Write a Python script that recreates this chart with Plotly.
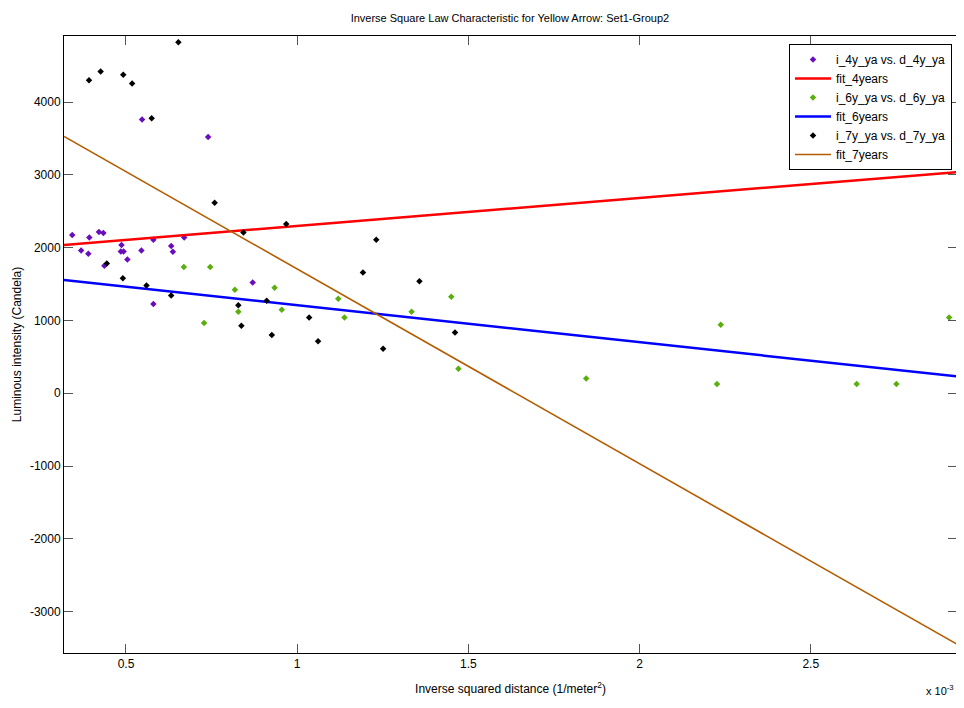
import plotly.graph_objects as go

# x values in units of 1e-3 (1/meter^2), as displayed with "x 10^-3"
d_4y_ya = [0.343, 0.393, 0.421, 0.434, 0.369, 0.390, 0.487, 0.485, 0.493, 0.504,
           0.545, 0.580, 0.632, 0.637, 0.670, 0.437, 0.580, 0.547, 0.740, 0.870]
i_4y_ya = [2174, 2141, 2215, 2202, 1962, 1917, 2036, 1948, 1948, 1838,
           1962, 2109, 2023, 1944, 2141, 1752, 1225, 3761, 3523, 1522]

d_6y_ya = [0.669, 0.746, 0.818, 0.828, 0.728, 0.934, 0.955, 1.120, 1.138, 1.334,
           1.450, 1.471, 1.844, 2.237, 2.226, 2.634, 2.750, 2.904]
i_6y_ya = [1734, 1734, 1421, 1119, 967, 1449, 1146, 1298, 1040, 1119,
           1325, 338, 201, 940, 128, 128, 128, 1040]

d_7y_ya = [0.392, 0.426, 0.492, 0.518, 0.653, 0.575, 0.444, 0.491, 0.560, 0.632,
           0.759, 0.828, 0.837, 0.843, 0.968, 1.231, 0.911, 0.926, 1.035, 1.061,
           1.192, 1.357, 1.461, 1.251]
i_7y_ya = [4301, 4421, 4376, 4256, 4824, 3779, 1783, 1582, 1481, 1343,
           2619, 1211, 926, 2210, 2325, 2109, 1270, 802, 1040, 716,
           1659, 1541, 834, 610]

fit_x = [0.319, 2.927]
fit_4years = [2038, 3040]
fit_6years = [1556, 231]
fit_7years = [3531, -3450]

x_ticks = [0.5, 1.0, 1.5, 2.0, 2.5]
x_tick_labels = ["0.5", "1", "1.5", "2", "2.5"]
y_ticks = [-3000, -2000, -1000, 0, 1000, 2000, 3000, 4000]
y_tick_labels = ["-3000", "-2000", "-1000", "0", "1000", "2000", "3000", "4000"]

FONT = "Liberation Sans Narrow, Arial Narrow, Liberation Sans, Arial, sans-serif"

fig = go.Figure()
mk = dict(symbol="diamond", size=5)
fig.add_trace(go.Scatter(x=d_4y_ya, y=i_4y_ya, mode="markers", name="i_4y_ya vs. d_4y_ya",
                         marker=dict(color="#6a0dbd", **mk)))
fig.add_trace(go.Scatter(x=fit_x, y=fit_4years, mode="lines", name="fit_4years",
                         line=dict(color="#ff0000", width=2.5)))
fig.add_trace(go.Scatter(x=d_6y_ya, y=i_6y_ya, mode="markers", name="i_6y_ya vs. d_6y_ya",
                         marker=dict(color="#5aae0e", **mk)))
fig.add_trace(go.Scatter(x=fit_x, y=fit_6years, mode="lines", name="fit_6years",
                         line=dict(color="#0000ff", width=2.5)))
fig.add_trace(go.Scatter(x=d_7y_ya, y=i_7y_ya, mode="markers", name="i_7y_ya vs. d_7y_ya",
                         marker=dict(color="#000000", **mk)))
fig.add_trace(go.Scatter(x=fit_x, y=fit_7years, mode="lines", name="fit_7years",
                         line=dict(color="#b35c00", width=1.6)))

axis_common = dict(showgrid=False, zeroline=False, showline=True, linecolor="black",
                   linewidth=1, mirror="ticks", ticks="inside", ticklen=9,
                   tickcolor="#555555", automargin=False,
                   tickfont=dict(size=12, color="black", family=FONT))

fig.update_xaxes(range=[0.319, 2.927], tickvals=x_ticks, ticktext=x_tick_labels,
                 title=dict(text="Inverse squared distance (1/meter<sup>2</sup>)",
                            font=dict(size=12, color="black", family=FONT), standoff=14),
                 **axis_common)
fig.update_yaxes(range=[-3570, 4910], tickvals=y_ticks, ticktext=y_tick_labels,
                 title=dict(text="Luminous intensity (Candela)",
                            font=dict(size=12, color="black", family=FONT), standoff=5),
                 **axis_common)

# page body has an 8px margin: figure is sized/offset to place the plot box as in the reference
fig.update_layout(
    width=956, height=700,
    margin=dict(l=56, r=7, t=28, b=55),
    paper_bgcolor="white", plot_bgcolor="white",
    title=dict(text="Inverse Square Law Characteristic for Yellow Arrow: Set1-Group2",
               x=0.525, xanchor="center", y=0.9857, yanchor="middle",
               font=dict(size=11, color="black", family=FONT)),
    legend=dict(x=0.9944, xanchor="right", y=0.987, yanchor="top",
                bordercolor="black", borderwidth=1, bgcolor="white",
                font=dict(size=12, color="black", family=FONT),
                itemwidth=36, tracegroupgap=0),
    showlegend=True,
    annotations=[dict(text="x 10<sup>-3</sup>", xref="paper", yref="paper",
                      x=0.981, y=-0.06, xanchor="center", yanchor="middle",
                      showarrow=False, font=dict(size=11, color="black", family=FONT))],
)

fig.write_html("out.html")
